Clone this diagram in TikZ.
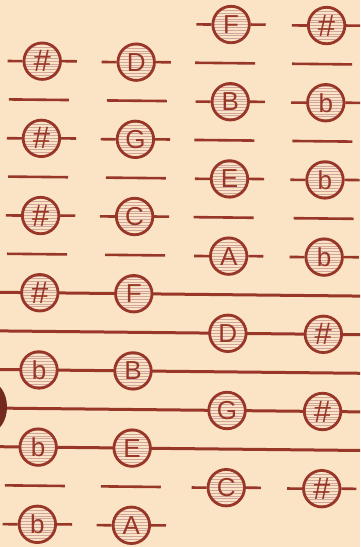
\documentclass[tikz,border=0pt]{standalone}
\usepackage{fontspec}
\setsansfont{Liberation Sans}
\usetikzlibrary{positioning}
\definecolor{paper}{RGB}{251,228,198}
\definecolor{ink}{RGB}{152,54,40}
\newcommand{\shrp}{{\fontsize{31}{31}\selectfont\#}}
\tikzset{
  staffline/.style={ink, line width=3pt},
  ledger/.style={ink, line width=2.6pt},
  notehead/.style={circle, draw=ink, line width=2.8pt, fill=paper, minimum size=36.5pt, inner sep=0pt,
    text=ink, font=\sffamily\fontsize{26}{26}\selectfont,
    path picture={\foreach \k in {-6,...,6}
      \draw[ink!45, line width=0.8pt] ([yshift=\k*2.8pt]path picture bounding box.west) -- ([yshift=\k*2.8pt]path picture bounding box.east);}}
}

\begin{document}
\begin{tikzpicture}[x=1pt, y=-1pt]
  \useasboundingbox (0,0) rectangle (360,547);
  \fill[paper] (0,0) rectangle (360,547);
  \clip (0,0) rectangle (360,547);
  \begin{scope}[rotate around={-0.6:(180,273)}]
    % staff
    \foreach \y [count=\i] in {294.2,332.8,371.4,410,448.6} {
      \coordinate (sw\i) at (-10,\y);
      \coordinate (se\i) at (370,\y);
      \draw[staffline] (sw\i) -- (se\i);
    }
    % empty ledger lines
    \foreach \cx/\y [count=\i] in {37/101.2,37/178.4,37/255.6,37/487.2,135/101.2,135/178.4,135/255.6,133/487.2,
        223/62.6,223/139.8,223/217,320/62.6,321/139.8,323/217} {
      \coordinate (lw\i) at ({\cx-30},\y);
      \coordinate (le\i) at ({\cx+30},\y);
      \draw[ledger] (lw\i) -- (le\i);
    }
    % left pair
    \node[notehead] (acc1) at (40,62.6) {\shrp};
    \node[notehead] (acc2) at (40,139.8) {\shrp};
    \node[notehead] (acc3) at (40,217) {\shrp};
    \node[notehead] (acc4) at (40,294.2) {\shrp};
    \node[notehead] (acc5) at (40,371.4) {b};
    \node[notehead] (acc6) at (40,448.6) {b};
    \node[notehead] (acc7) at (40,525.8) {b};
    \node[notehead] (nD) at (134,62.6) {D};
    \node[notehead] (nG) at (134,139.8) {G};
    \node[notehead] (nC) at (134,217) {C};
    \node[notehead] (nF) at (134,294.2) {F};
    \node[notehead] (nB) at (134,371.4) {B};
    \node[notehead] (nE) at (134,448.6) {E};
    \node[notehead] (nA) at (134,525.8) {A};
    % right pair
    \node[notehead] (mF) at (228.5,24) {F};
    \node[notehead] (mB) at (228.5,101.2) {B};
    \node[notehead] (mE) at (228.5,178.4) {E};
    \node[notehead] (mA) at (228.5,255.6) {A};
    \node[notehead] (mD) at (228.5,332.8) {D};
    \node[notehead] (mG) at (228.5,410) {G};
    \node[notehead] (mC) at (228.5,487.2) {C};
    \node[notehead] (acc8) at (324,24) {\shrp};
    \node[notehead] (acc9) at (324,101.2) {b};
    \node[notehead] (acc10) at (324,178.4) {b};
    \node[notehead] (acc11) at (324,255.6) {b};
    \node[notehead] (acc12) at (324,332.8) {\shrp};
    \node[notehead] (acc13) at (324,410) {\shrp};
    \node[notehead] (acc14) at (324,487.2) {\shrp};
    % stubs of ledger notes
    \foreach \nd in {acc1,acc2,acc3,acc7,nD,nG,nC,nA,mF,mB,mE,mA,mC,acc8,acc9,acc10,acc11,acc14} {
      \draw[ledger] ([xshift=-15pt]\nd.west) -- (\nd.west) (\nd.east) -- ([xshift=15pt]\nd.east);
    }
  \end{scope}
  \fill[ink!75!black] (-10,407) ellipse [x radius=17pt, y radius=25pt];
\end{tikzpicture}
\end{document}
